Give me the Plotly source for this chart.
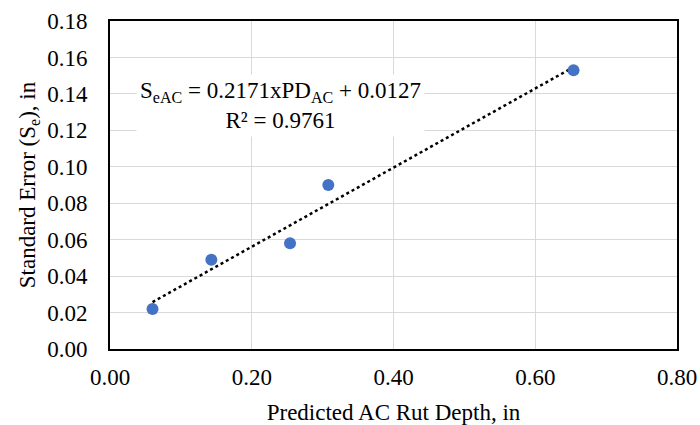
import plotly.graph_objects as go
import numpy as np

# Data
pred_ac_rut = [0.060, 0.143, 0.254, 0.308, 0.654]
std_error = [0.022, 0.049, 0.058, 0.090, 0.153]

# Trendline coefficients shown on the chart
slope = 0.2171
intercept = 0.0127
r2 = 0.9761

x_ticks = [0.0, 0.2, 0.4, 0.6, 0.8]
y_ticks = [0.00, 0.02, 0.04, 0.06, 0.08, 0.10, 0.12, 0.14, 0.16, 0.18]

FONT = "Liberation Serif"
FS = 23

tx = np.array([min(pred_ac_rut), max(pred_ac_rut)])
ty = slope * tx + intercept

fig = go.Figure()
fig.add_trace(go.Scatter(
    x=tx, y=ty, mode="lines",
    line=dict(color="black", width=2.5, dash="dot"),
    showlegend=False, hoverinfo="skip"))
fig.add_trace(go.Scatter(
    x=pred_ac_rut, y=std_error, mode="markers",
    marker=dict(color="#4472C4", size=12),
    showlegend=False))

fig.add_annotation(
    x=0.24, y=0.1335, xref="x", yref="y",
    text=(f"S<sub>eAC</sub> = {slope}xPD<sub>AC</sub> + {intercept}<br>"
          f"R² = {r2}"),
    showarrow=False, align="center",
    font=dict(family=FONT, size=FS, color="black"),
    bgcolor="white", borderpad=3)

fig.update_layout(
    width=700, height=425,
    margin=dict(l=110, r=23, t=21, b=76, autoexpand=False),
    paper_bgcolor="white", plot_bgcolor="white",
    font=dict(family=FONT, size=FS, color="black"),
    xaxis=dict(
        range=[0, 0.8], tickvals=x_ticks, tickformat=".2f",
        showgrid=True, gridcolor="#d9d9d9", gridwidth=1,
        showline=True, linecolor="black", linewidth=2, mirror=True,
        zeroline=False, ticks="", ticklabelstandoff=6, automargin=False,
        title=dict(text="Predicted AC Rut Depth, in", standoff=15,
                   font=dict(family=FONT, size=FS))),
    yaxis=dict(
        range=[0, 0.18], tickvals=y_ticks, tickformat=".2f",
        showgrid=True, gridcolor="#d9d9d9", gridwidth=1,
        showline=True, linecolor="black", linewidth=2, mirror=True,
        zeroline=False, ticks="", ticklabelstandoff=16, automargin=False,
        title=dict(text="Standard Error (S<sub>e</sub>), in", standoff=5,
                   font=dict(family=FONT, size=FS))),
)

fig.write_html("out.html",
               config={"displayModeBar": False},
               post_script="document.body.style.margin='0';document.body.style.overflow='hidden';")
